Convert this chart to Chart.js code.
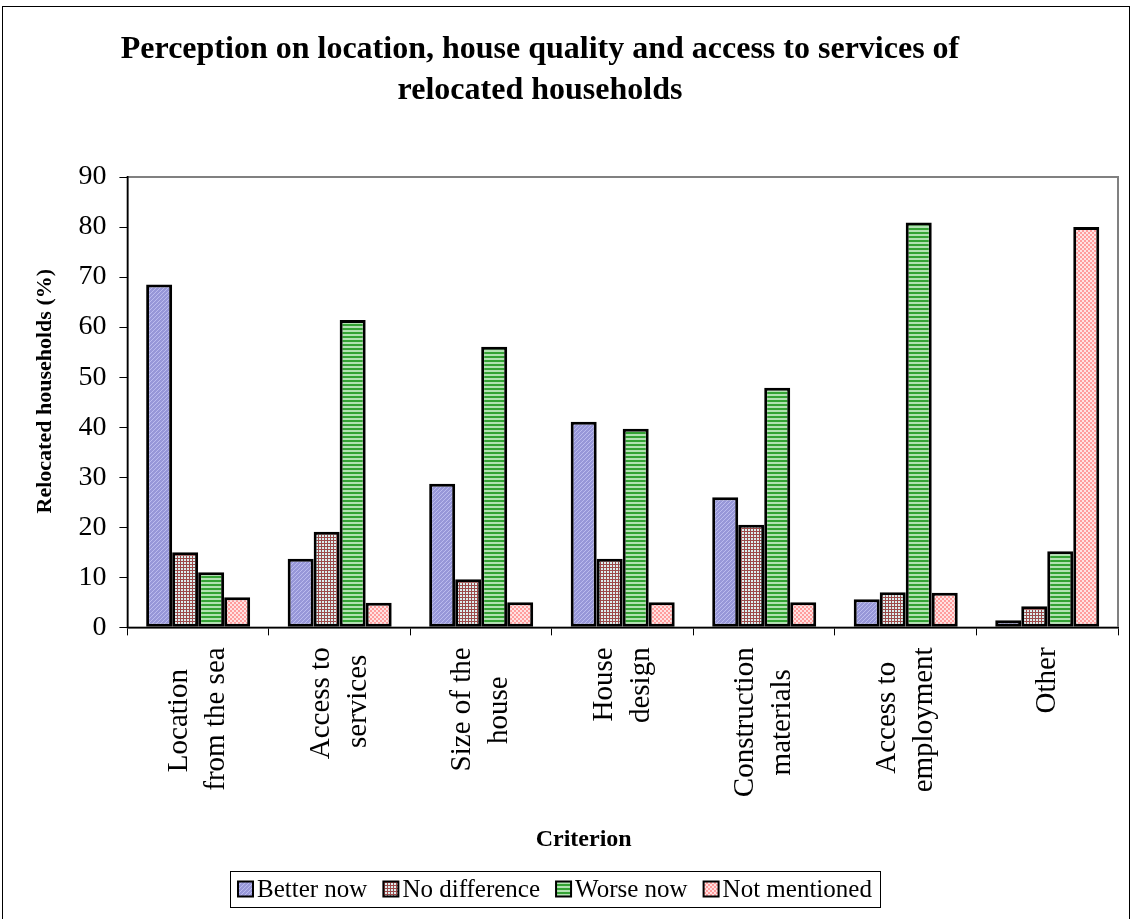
<!DOCTYPE html>
<html>
<head>
<meta charset="utf-8">
<script src="https://cdn.jsdelivr.net/npm/chart.js@4.4.1/dist/chart.umd.min.js"></script>
<style>
html, body { margin: 0; padding: 0; background: #fff; }
#wrap { position: relative; width: 1132px; height: 919px; overflow: hidden; }
#frame { position: absolute; left: 2px; top: 6px; width: 1128px; height: 930px; border: 1px solid #000; box-sizing: border-box; }
#c { position: absolute; left: 0; top: 0; }
</style>
</head>
<body>
<div id="wrap"><div id="frame"></div><canvas id="c" width="1132" height="919"></canvas></div>
<script>
// chart data
const titleLines = ['Perception on location, house quality and access to services of', 'relocated households'];
const categories = [['Location', 'from the sea'], ['Access to', 'services'], ['Size of the', 'house'], ['House', 'design'], ['Construction', 'materials'], ['Access to', 'employment'], ['', 'Other']];
const seriesNames = ['Better now', 'No difference', 'Worse now', 'Not mentioned'];
const betterNow = [68.5, 13.7, 28.7, 41.1, 26.0, 5.6, 1.4];
const noDifference = [15.0, 19.1, 9.6, 13.7, 20.5, 7.0, 4.2];
const worseNow = [11.0, 61.4, 56.1, 39.7, 47.9, 80.9, 15.2];
const notMentioned = [6.0, 4.9, 5.0, 5.0, 5.0, 6.9, 80.0];
const yMin = 0, yMax = 90, yStep = 10;

const serif = '"Liberation Serif", "Times New Roman", serif';
const tickSize = 29;
const lineGap = 37;

function makePattern(w, h, draw) {
  const c = document.createElement('canvas');
  c.width = w; c.height = h;
  const g = c.getContext('2d');
  draw(g);
  return g.createPattern(c, 'repeat');
}

const fills = [
  makePattern(4, 4, g => {
    g.fillStyle = '#9797d8'; g.fillRect(0, 0, 4, 4);
    g.fillStyle = '#bcbcee';
    for (let i = 0; i < 4; i++) g.fillRect(i, 3 - i, 1, 1);
  }),
  makePattern(3, 3, g => {
    g.fillStyle = '#dcefef'; g.fillRect(0, 0, 3, 3);
    g.fillStyle = '#9c4a4a';
    g.fillRect(0, 0, 3, 1); g.fillRect(0, 0, 1, 3);
  }),
  makePattern(4, 4, g => {
    g.fillStyle = '#b2e2b2'; g.fillRect(0, 0, 4, 4);
    g.fillStyle = '#34a234'; g.fillRect(0, 0, 4, 2);
  }),
  makePattern(4, 4, g => {
    g.fillStyle = '#ffe2e2'; g.fillRect(0, 0, 4, 4);
    g.fillStyle = '#ff9c9c'; g.fillRect(0, 0, 2, 2); g.fillRect(2, 2, 2, 2);
  })
];

// pad shorter lines with trailing spaces so rotated lines look centred
const measure = document.createElement('canvas').getContext('2d');
measure.font = tickSize + 'px ' + serif;
function centredLines(lines) {
  const widths = lines.map(l => measure.measureText(l).width);
  const maxW = Math.max(...widths);
  const sp = measure.measureText(' ').width;
  return lines.map((l, i) => l === '' ? l : l + ' '.repeat(Math.round((maxW - widths[i]) / 2 / sp)));
}

const seriesData = [betterNow, noDifference, worseNow, notMentioned];

const titlePlugin = {
  id: 'topTitle',
  afterDraw(chart) {
    const ctx = chart.ctx;
    ctx.save();
    ctx.font = 'bold 32px ' + serif;
    ctx.fillStyle = '#000';
    ctx.textAlign = 'center';
    ctx.textBaseline = 'alphabetic';
    ctx.fillText(titleLines[0], 540, 58);
    ctx.fillText(titleLines[1], 540, 99);
    ctx.restore();
  }
};

const framePlugin = {
  id: 'plotFrame',
  beforeDraw(chart) {
    const a = chart.chartArea, ctx = chart.ctx;
    ctx.save();
    ctx.strokeStyle = '#808080';
    ctx.lineWidth = 2;
    ctx.strokeRect(a.left, a.top, a.right - a.left, a.bottom - a.top);
    ctx.restore();
  }
};

const legendPlugin = {
  id: 'boxLegend',
  afterDraw(chart) {
    const ctx = chart.ctx;
    ctx.save();
    ctx.font = '25px ' + serif;
    const box = 15, gapText = 4, gapItem = 16, pad = 8, cy = 889;
    const widths = seriesNames.map(n => ctx.measureText(n).width);
    const total = widths.reduce((a, b) => a + b, 0) + seriesNames.length * (box + gapText) + (seriesNames.length - 1) * gapItem;
    let x = Math.round(555 - total / 2);
    ctx.strokeStyle = '#000';
    ctx.lineWidth = 1;
    ctx.strokeRect(x - pad + 0.5, 871.5, Math.round(total + 2 * pad), 36);
    chart.data.datasets.forEach((ds, i) => {
      ctx.fillStyle = ds.backgroundColor;
      ctx.fillRect(x, cy - box / 2, box, box);
      ctx.lineWidth = 2;
      ctx.strokeRect(x, cy - box / 2, box, box);
      ctx.fillStyle = '#000';
      ctx.textBaseline = 'middle';
      ctx.textAlign = 'left';
      ctx.fillText(ds.label, x + box + gapText, cy + 1);
      x += box + gapText + widths[i] + gapItem;
    });
    ctx.restore();
  }
};

new Chart(document.getElementById('c').getContext('2d'), {
  type: 'bar',
  data: {
    labels: categories.map(centredLines),
    datasets: seriesNames.map((name, i) => ({
      label: name,
      data: seriesData[i],
      backgroundColor: fills[i],
      borderColor: '#000',
      borderWidth: 3,
      borderSkipped: false,
      categoryPercentage: 0.735,
      barPercentage: 1.0
    }))
  },
  options: {
    responsive: false,
    animation: false,
    events: [],
    layout: { padding: { top: 177, left: 32, right: 14, bottom: 61 } },
    plugins: {
      title: { display: false },
      tooltip: { enabled: false },
      legend: { display: false }
    },
    scales: {
      x: {
        grid: { offset: true, drawOnChartArea: false, color: '#000', tickLength: 8, lineWidth: 1 },
        border: { color: '#000', width: 1.5 },
        ticks: {
          maxRotation: 90, minRotation: 90, autoSkip: false,
          color: '#000',
          padding: 12,
          labelOffset: -lineGap / 2,
          font: ctx => ({ family: serif, size: tickSize, lineHeight: (ctx.index === 6 ? lineGap / 2 : lineGap) + 'px' })
        },
        title: {
          display: true, text: 'Criterion' + ' '.repeat(13), color: '#000',
          font: { family: serif, size: 24, weight: 'bold' },
          padding: { top: 16, bottom: 4 }
        }
      },
      y: {
        min: yMin, max: yMax,
        grid: { drawOnChartArea: false, color: '#000', tickLength: 8 },
        border: { color: '#000', width: 1.5 },
        ticks: {
          stepSize: yStep, color: '#000', padding: 13,
          font: { family: serif, size: 28 }
        },
        title: {
          display: true, text: '    Relocated households (%)', color: '#000',
          font: { family: serif, size: 22, weight: 'bold' },
          padding: { top: 0, bottom: 7 }
        }
      }
    }
  },
  plugins: [titlePlugin, framePlugin, legendPlugin]
});
</script>
</body>
</html>
